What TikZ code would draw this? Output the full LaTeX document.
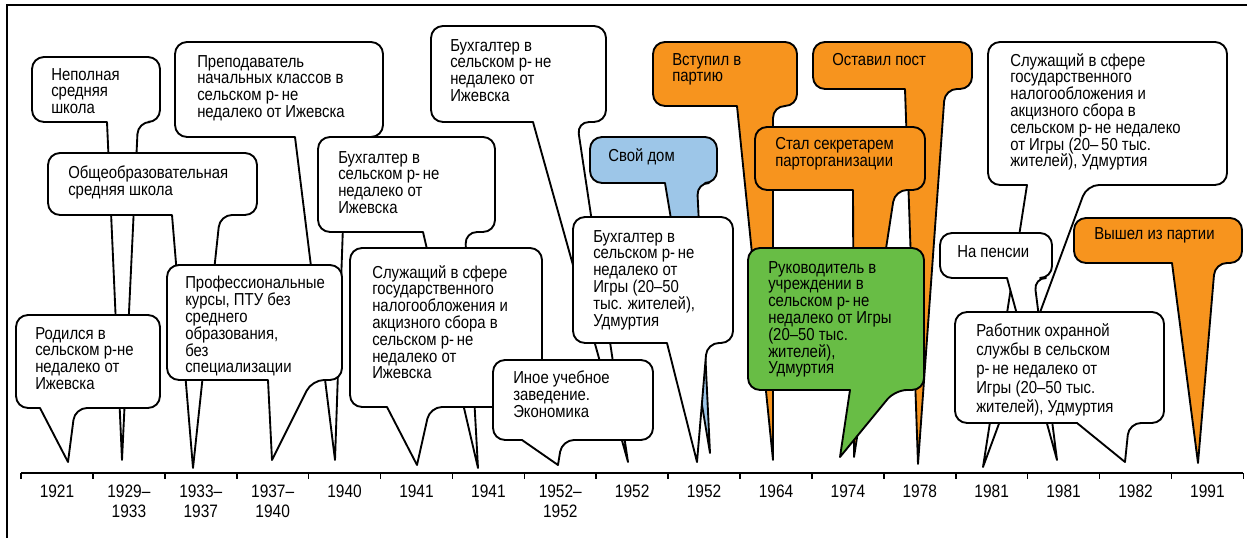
\documentclass[tikz,border=0pt]{standalone}
\usepackage{fontspec}
\setmainfont{Liberation Sans}[FakeStretch=0.86]
\usetikzlibrary{calc}

\definecolor{partorange}{RGB}{247,148,30}
\definecolor{homeblue}{RGB}{157,198,232}
\definecolor{bossgreen}{RGB}{104,189,69}

% callout: [style]{x1}{y1}{x2}{y2}{tail left}{tail right}{tip}
\newcommand{\callbub}[8][]{%
  \draw[bub,#1] (#6,#5) [rounded corners=9pt] -- (#2,#5) -- (#2,#3) -- (#4,#3)
    -- (#4,#5) -- (#7,#5) [sharp corners] -- (#8) -- cycle;}

\begin{document}
\begin{tikzpicture}[
    x=0.75pt, y=-0.75pt,
    bub/.style={draw=black, fill=white, line width=1.4pt, line join=round},
    txt/.style={anchor=north west, inner sep=0pt, align=left, font=\fontsize{13}{12.6}\selectfont},
    yrlabel/.style={anchor=north, inner sep=0pt, align=center, font=\fontsize{13.5}{15}\selectfont}
]
\useasboundingbox (0,0) rectangle (1247,538);
\draw[line width=0.9pt] (7,538) -- (7,5) -- (1247,5);

% tips on the time axis
\coordinate (t1921) at (68,462);
\coordinate (t1929) at (122,460);
\coordinate (t1933) at (193,468);
\coordinate (t1937) at (272,460);
\coordinate (t1940) at (335,460);
\coordinate (t1941a) at (417,465);
\coordinate (t1941b) at (478,468);
\coordinate (t1952r) at (558,465);
\coordinate (t1952a) at (628,462);
\coordinate (t1952b) at (697,462);
\coordinate (t1952c) at (710,453);
\coordinate (t1964) at (773,460);
\coordinate (t1974a) at (840,457);
\coordinate (t1974b) at (854,457);
\coordinate (t1978) at (918,464);
\coordinate (t1981a) at (983,467);
\coordinate (t1981b) at (1057,460);
\coordinate (t1982) at (1125,462);
\coordinate (t1991) at (1198,463);

% bubbles, back to front
\callbub{32}{57}{160}{122}{107}{138}{t1929}
\callbub{48}{153}{257}{215}{172}{220}{t1933}
\callbub{175}{42}{383}{137}{295}{346}{t1940}
\callbub{318}{137}{495}{232}{423}{465}{t1941b}
\callbub{350}{248}{542}{407}{387}{430}{t1941a}
\callbub{167}{265}{342}{380}{268}{312}{t1937}
\callbub{16}{315}{160}{408}{40}{75}{t1921}
\callbub{431}{26}{606}{122}{533}{577}{t1952a}
\callbub{493}{360}{653}{440}{522}{562}{t1952r}
\callbub[fill=homeblue]{590}{137}{717}{183}{665}{697}{t1952c}
\callbub{573}{217}{733}{343}{667}{707}{t1952b}
\callbub[fill=partorange]{653}{42}{797}{106}{737}{773}{t1964}
\callbub[fill=partorange]{813}{42}{972}{89}{905}{945}{t1978}
\callbub[fill=partorange]{755}{127}{925}{190}{853}{895}{t1974b}
\callbub[fill=bossgreen]{748}{248}{924}{390}{850}{895}{t1974a}
\callbub{988}{42}{1227}{185}{1027}{1087}{t1981a}
\callbub{940}{233}{1052}{278}{1007}{1034}{t1981b}
\callbub{955}{312}{1164}{423}{1077}{1129}{t1982}
\callbub[fill=partorange]{1074}{218}{1242}{263}{1172}{1215}{t1991}

% texts
\node[txt] (nepoln) at (51,68) {Неполная\\средняя\\школа};
\node[txt] (obshch) at (68,166) {Общеобразовательная\\средняя школа};
\node[txt] (prepod) at (197,55) {Преподаватель\\начальных классов в\\сельском р-\,не\\недалеко от Ижевска};
\node[txt] (buhA) at (338,151) {Бухгалтер в\\сельском р-\,не\\недалеко от\\Ижевска};
\node[txt] (sluzhA) at (372,265) {Служащий в сфере\\государственного\\налогообложения и\\акцизного сбора в\\сельском р-\,не\\недалеко от\\Ижевска};
\node[txt] (prof) at (185,276) {Профессиональные\\курсы, ПТУ без\\среднего\\образования,\\без\\специализации};
\node[txt] (rodilsya) at (35,327) {Родился в\\сельском р-не\\недалеко от\\Ижевска};
\node[txt] (buhB) at (450,39) {Бухгалтер в\\сельском р-\,не\\недалеко от\\Ижевска};
\node[txt] (inoe) at (513,371) {Иное учебное\\заведение.\\Экономика};
\node[txt] (dom) at (608,148) {Свой дом};
\node[txt] (buhC) at (593,230) {Бухгалтер в\\сельском р-\,не\\недалеко от\\Игры (20--50\\тыс. жителей),\\Удмуртия};
\node[txt] (vstupil) at (672,53) {Вступил в\\партию};
\node[txt] (ostavil) at (832,53) {Оставил пост};
\node[txt] (sekr) at (775,137) {Стал секретарем\\парторганизации};
\node[txt] (ruk) at (768,261) {Руководитель в\\учреждении в\\сельском р-\,не\\недалеко от Игры\\(20--50 тыс.\\жителей),\\Удмуртия};
\node[txt] (sluzhB) at (1010,53) {Служащий в сфере\\государственного\\налогообложения и\\акцизного сбора в\\сельском р-\,не недалеко\\от Игры (20--\,50 тыс.\\жителей), Удмуртия};
\node[txt] (pensiya) at (957,245) {На пенсии};
\node[txt, font=\fontsize{13}{14.3}\selectfont] (ohrana) at (976,323) {Работник охранной\\службы в сельском\\р-\,не недалеко от\\Игры (20--50 тыс.\\жителей), Удмуртия};
\node[txt] (vyshel) at (1094,227) {Вышел из партии};

% time axis
\coordinate (ax0) at (21,473);
\coordinate (ax1) at (1243,473);
\draw[line width=1.4pt] (ax0) -- (ax1);
\foreach \i in {0,...,17}
  \draw[line width=1.2pt] (21+71.9*\i,473) -- ++(0,6);
\foreach \yr [count=\i from 0] in {1921,{1929--\\1933},{1933--\\1937},{1937--\\1940},1940,1941,1941,{1952--\\1952},1952,1952,1964,1974,1978,1981,1981,1982,1991}
  \node[yrlabel] (yr\i) at (57+71.9*\i,485) {\yr};
\end{tikzpicture}
\end{document}
